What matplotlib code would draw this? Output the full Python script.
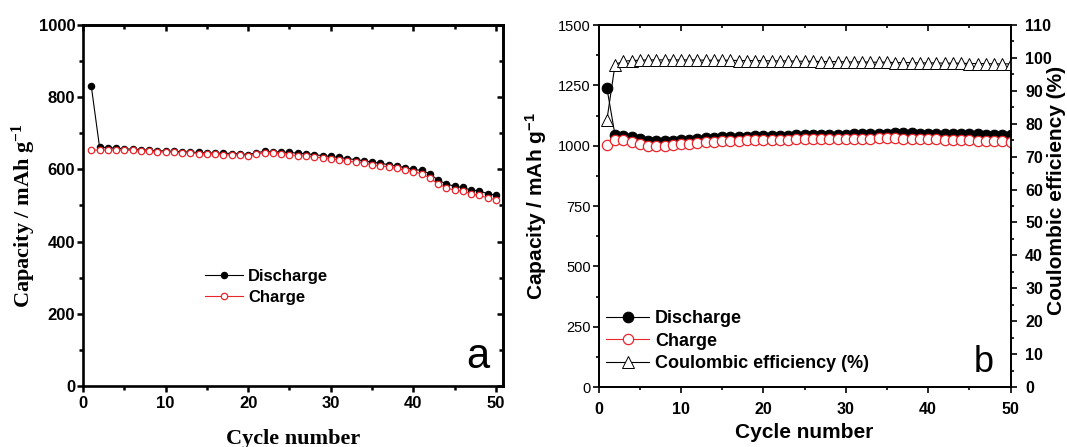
import matplotlib
matplotlib.use("Agg")
import matplotlib.pyplot as plt
import numpy as np
from matplotlib.ticker import MultipleLocator

# ---------------------------------------------------------------------------
# Data
# ---------------------------------------------------------------------------
cycles = np.arange(1, 51)

# panel a
discharge_a = [831, 662, 660, 659, 657, 656, 655, 653, 652, 651,
               650, 649, 648, 647, 646, 645, 645, 644, 643, 641,
               646, 650, 649, 648, 647, 645, 643, 641, 638, 636,
               633, 630, 627, 624, 620, 617, 613, 609, 605, 600,
               597, 588, 570, 560, 553, 550, 542, 541, 532, 529]
charge_a = [654, 653, 654, 654, 653, 653, 652, 650, 649, 648,
            648, 646, 646, 644, 642, 643, 641, 640, 640, 638,
            643, 646, 645, 644, 641, 638, 637, 634, 632, 630,
            626, 623, 620, 618, 612, 610, 607, 603, 597, 594,
            588, 576, 559, 549, 542, 540, 532, 528, 521, 516]

# panel b
discharge_b = [1241, 1043, 1040, 1035, 1026, 1020, 1018, 1018, 1020, 1022,
               1024, 1027, 1030, 1032, 1034, 1036, 1037, 1038, 1039, 1040,
               1041, 1042, 1042, 1043, 1043, 1044, 1044, 1045, 1045, 1046,
               1047, 1048, 1049, 1050, 1050, 1051, 1051, 1051, 1050, 1050,
               1050, 1049, 1049, 1048, 1048, 1047, 1046, 1046, 1045, 1044]
charge_b = [1004, 1024, 1025, 1016, 1006, 1000, 998, 999, 1003, 1006,
            1009, 1012, 1015, 1017, 1019, 1020, 1021, 1022, 1023, 1024,
            1024, 1025, 1025, 1026, 1026, 1026, 1027, 1027, 1027, 1028,
            1028, 1029, 1029, 1030, 1030, 1030, 1029, 1029, 1028, 1027,
            1026, 1025, 1024, 1023, 1022, 1021, 1020, 1019, 1018, 1016]
coulombic_eff = [81.0, 98.0, 99.0, 99.2, 99.3, 99.4, 99.4, 99.4, 99.4, 99.4,
                 99.4, 99.4, 99.3, 99.3, 99.3, 99.3, 99.2, 99.2, 99.2, 99.2,
                 99.1, 99.1, 99.1, 99.0, 99.0, 99.0, 98.9, 98.9, 98.9, 98.8,
                 98.8, 98.8, 98.7, 98.7, 98.7, 98.6, 98.6, 98.6, 98.5, 98.5,
                 98.5, 98.4, 98.4, 98.4, 98.3, 98.3, 98.3, 98.2, 98.2, 98.2]

SANS = "Liberation Sans"
SERIF = "Liberation Serif"
RED = "#e8262b"
CAP_LABEL = "Capacity / mAh g$\\mathregular{^{-1}}$"


def style_ticklabels(labels, family, size, weight="normal"):
    for lab in labels:
        lab.set_fontfamily(family)
        lab.set_fontweight(weight)
        lab.set_fontsize(size)


fig = plt.figure(figsize=(10.67, 4.47), dpi=100)

# ── panel a ─────────────────────────────────────────────────────────────────
ax = fig.add_axes([0.0778, 0.1365, 0.3936, 0.8076])
ax.plot(cycles, discharge_a, "-o", color="black", lw=0.8, ms=4.6,
        mfc="black", mec="black", mew=0.8, label="Discharge", zorder=2)
ax.plot(cycles, charge_a, "-o", color=RED, lw=0.8, ms=4.6,
        mfc="white", mec=RED, mew=0.9, label="Charge", zorder=3)
ax.set_xlim(0, 50.85)
ax.set_ylim(0, 1000)
ax.xaxis.set_major_locator(MultipleLocator(10))
ax.xaxis.set_minor_locator(MultipleLocator(5))
ax.yaxis.set_major_locator(MultipleLocator(200))
ax.yaxis.set_minor_locator(MultipleLocator(100))
ax.tick_params(which="both", direction="out", width=1.8)
ax.tick_params(which="major", length=4)
ax.tick_params(which="minor", length=3)
ax.tick_params(axis="x", pad=3)
ax.tick_params(axis="y", pad=1.5)
style_ticklabels(ax.get_xticklabels() + ax.get_yticklabels(), SANS, 12, "bold")
for sp in ax.spines.values():
    sp.set_linewidth(1.9)

# top / right ticks point inward
axt = ax.secondary_xaxis("top")
axr = ax.secondary_yaxis("right")
axt.xaxis.set_major_locator(MultipleLocator(10))
axt.xaxis.set_minor_locator(MultipleLocator(5))
axr.yaxis.set_major_locator(MultipleLocator(200))
axr.yaxis.set_minor_locator(MultipleLocator(100))
for sec in (axt, axr):
    sec.tick_params(which="both", direction="in", width=1.8,
                    labeltop=False, labelright=False)
    sec.tick_params(which="major", length=4)
    sec.tick_params(which="minor", length=3)
    for sp in sec.spines.values():
        sp.set_linewidth(1.9)

ax.set_xlabel("Cycle number", fontfamily=SERIF, fontweight="bold", fontsize=16)
ax.xaxis.set_label_coords(0.5, -0.118)
ax.set_ylabel(CAP_LABEL, fontfamily=SERIF, fontweight="bold", fontsize=16)
ax.yaxis.set_label_coords(-0.108, 0.47)
ax.text(0.94, 0.05, "a", transform=ax.transAxes, fontfamily=SANS,
        fontsize=30, ha="center", va="baseline")
ax.legend(loc="upper left", bbox_to_anchor=(0.29, 0.325), frameon=False,
          prop={"family": SANS, "weight": "bold", "size": 12},
          handlelength=2.3, handletextpad=0.3, labelspacing=0.4,
          borderpad=0, borderaxespad=0)

# ── panel b ─────────────────────────────────────────────────────────────────
bx = fig.add_axes([0.561, 0.1342, 0.3861, 0.8098])
bx2 = bx.twinx()
l1, = bx.plot(cycles, discharge_b, "-o", color="black", lw=0.8, ms=7.6,
              mfc="black", mec="black", mew=0.8, label="Discharge", zorder=2)
l2, = bx.plot(cycles, charge_b, "-o", color=RED, lw=0.8, ms=7.4,
              mfc="white", mec=RED, mew=0.9, label="Charge", zorder=3)
l3, = bx2.plot(cycles, coulombic_eff, "-^", color="black", lw=0.8, ms=8,
               mfc="white", mec="black", mew=0.7,
               label="Coulombic efficiency (%)")
bx.set_xlim(0, 50)
bx.set_ylim(0, 1500)
bx2.set_ylim(0, 110)
bx.xaxis.set_major_locator(MultipleLocator(10))
bx.xaxis.set_minor_locator(MultipleLocator(5))
bx.yaxis.set_major_locator(MultipleLocator(250))
bx.yaxis.set_minor_locator(MultipleLocator(125))
bx2.yaxis.set_major_locator(MultipleLocator(10))
bx2.yaxis.set_minor_locator(MultipleLocator(5))
for a in (bx, bx2):
    a.tick_params(which="both", direction="out", width=1.2)
    a.tick_params(which="major", length=4.5)
    a.tick_params(which="minor", length=2.5)
    for sp in a.spines.values():
        sp.set_linewidth(1.3)
bx.tick_params(axis="x", pad=6.3)
bx.tick_params(axis="y", pad=1)
bx2.tick_params(axis="y", pad=6)

bxt = bx.secondary_xaxis("top")
bxt.xaxis.set_major_locator(MultipleLocator(10))
bxt.xaxis.set_minor_locator(MultipleLocator(5))
bxt.tick_params(which="both", direction="in", width=1.2, labeltop=False)
bxt.tick_params(which="major", length=4.5)
bxt.tick_params(which="minor", length=2.5)
bxt.spines["top"].set_linewidth(1.3)

style_ticklabels(bx.get_xticklabels(), SANS, 11.5, "bold")
style_ticklabels(bx.get_yticklabels(), SANS, 10.5)
style_ticklabels(bx2.get_yticklabels(), SANS, 11.5, "bold")

bx.set_xlabel("Cycle number", fontfamily=SANS, fontweight="bold", fontsize=15)
bx.xaxis.set_label_coords(0.5, -0.1)
bx.set_ylabel(CAP_LABEL, fontfamily=SANS, fontweight="bold", fontsize=15)
bx.yaxis.set_label_coords(-0.12, 0.5)
bx2.set_ylabel("Coulombic efficiency (%)", fontfamily=SANS,
               fontweight="bold", fontsize=15)
bx2.yaxis.set_label_coords(1.088, 0.544)
bx.text(0.936, 0.041, "b", transform=bx.transAxes, fontfamily=SANS,
        fontsize=26, ha="center", va="baseline")
bx2.legend(handles=[l1, l2, l3], loc="upper left", bbox_to_anchor=(0.018, 0.212),
           frameon=False, prop={"family": SANS, "weight": "bold", "size": 13},
           handlelength=2.4, handletextpad=0.3, labelspacing=0.3,
           borderpad=0, borderaxespad=0)

fig.savefig("out.png", dpi=100)
